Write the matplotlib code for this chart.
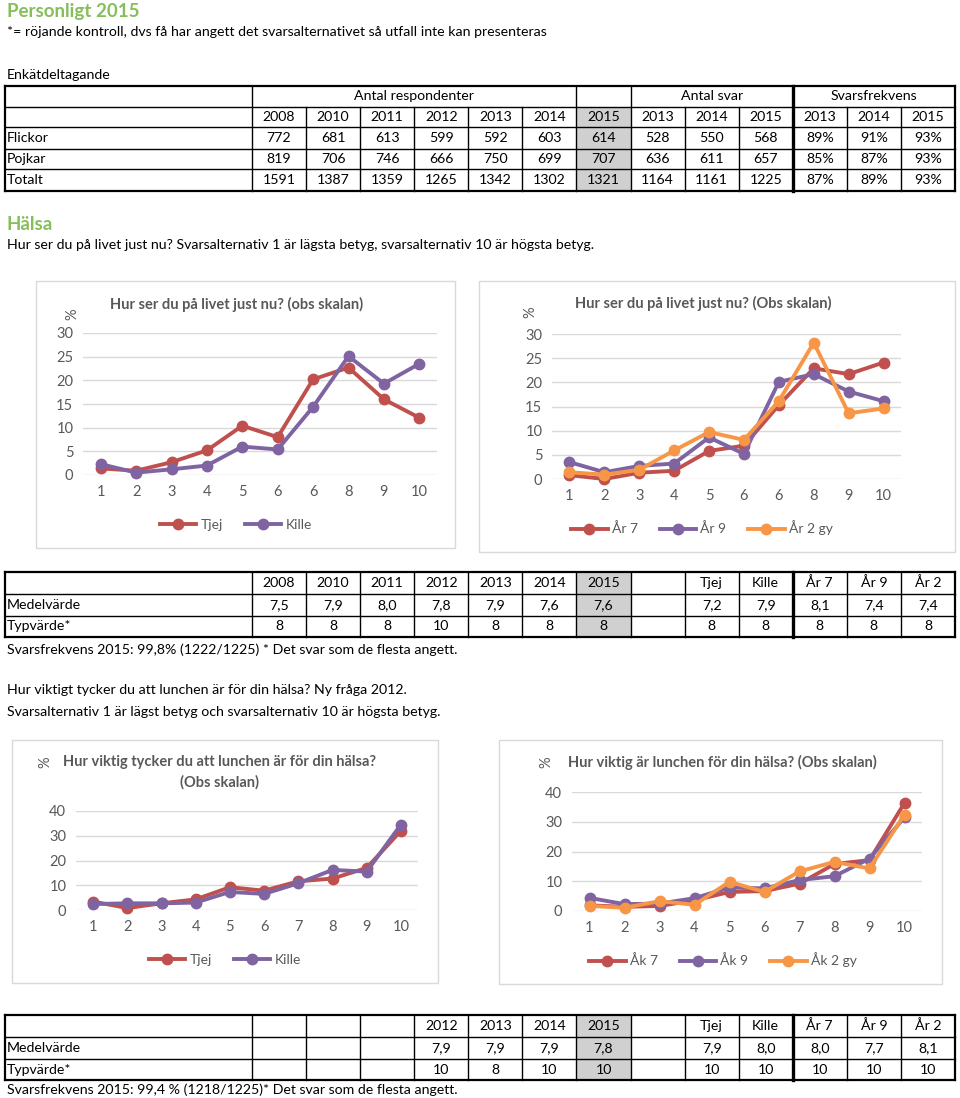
import matplotlib
matplotlib.use('Agg')
import matplotlib.pyplot as plt
import numpy as np
from matplotlib.patches import Rectangle

plt.rcParams['font.family'] = ['Lato', 'DejaVu Sans']

W, H = 960, 1098
GREEN = '#86bf5a'
GRAY = '#595959'
RED = '#c0504d'
PURPLE = '#8064a2'
ORANGE = '#f79646'

# ---------------- data ----------------
years_resp = ['2008', '2010', '2011', '2012', '2013', '2014', '2015']
years_short = ['2013', '2014', '2015']
row_names = ['Flickor', 'Pojkar', 'Totalt']
resp_flickor = ['772', '681', '613', '599', '592', '603', '614']
resp_pojkar = ['819', '706', '746', '666', '750', '699', '707']
resp_totalt = ['1591', '1387', '1359', '1265', '1342', '1302', '1321']
svar_flickor = ['528', '550', '568']
svar_pojkar = ['636', '611', '657']
svar_totalt = ['1164', '1161', '1225']
frek_flickor = ['89%', '91%', '93%']
frek_pojkar = ['85%', '87%', '93%']
frek_totalt = ['87%', '89%', '93%']

life_labels = ['1', '2', '3', '4', '5', '6', '6', '8', '9', '10']
life_tjej = [1.4, 0.9, 2.7, 5.2, 10.4, 8.0, 20.2, 22.7, 16.0, 12.1]
life_kille = [2.3, 0.5, 1.2, 2.0, 6.0, 5.4, 14.4, 25.1, 19.3, 23.5]
life_ar7 = [0.8, 0.0, 1.3, 1.7, 5.8, 6.9, 15.3, 22.9, 21.7, 24.1]
life_ar9 = [3.5, 1.4, 2.7, 3.2, 8.6, 5.2, 20.1, 21.7, 18.1, 16.1]
life_ar2 = [1.4, 0.9, 1.9, 5.9, 9.7, 8.1, 16.1, 28.2, 13.6, 14.6]

group_cols = ['Tjej', 'Kille', 'År 7', 'År 9', 'År 2']
life_medel_years = ['7,5', '7,9', '8,0', '7,8', '7,9', '7,6', '7,6']
life_typ_years = ['8', '8', '8', '10', '8', '8', '8']
life_medel_groups = ['7,2', '7,9', '8,1', '7,4', '7,4']
life_typ_groups = ['8', '8', '8', '8', '8']

lunch_labels = ['1', '2', '3', '4', '5', '6', '7', '8', '9', '10']
lunch_tjej = [3.4, 0.8, 2.7, 4.3, 9.2, 7.8, 11.6, 12.7, 17.0, 32.0]
lunch_kille = [2.4, 2.7, 2.7, 3.0, 7.3, 6.5, 10.8, 16.2, 15.5, 34.5]
lunch_ak7 = [1.9, 1.4, 1.7, 3.6, 6.4, 6.7, 9.2, 15.8, 17.1, 36.3]
lunch_ak9 = [4.4, 2.3, 2.5, 4.3, 7.9, 7.6, 10.4, 11.7, 17.6, 31.5]
lunch_ak2 = [1.7, 1.1, 3.3, 2.1, 9.8, 6.4, 13.3, 16.5, 14.3, 32.4]

lunch_medel_years = ['', '', '', '7,9', '7,9', '7,9', '7,8']
lunch_typ_years = ['', '', '', '10', '8', '10', '10']
lunch_year_hdr = ['', '', '', '2012', '2013', '2014', '2015']
lunch_medel_groups = ['7,9', '8,0', '8,0', '7,7', '8,1']
lunch_typ_groups = ['10', '10', '10', '10', '10']

# ---------------- figure ----------------
fig = plt.figure(figsize=(W / 100, H / 100), dpi=100)
bg = fig.add_axes([0, 0, 1, 1])
bg.set_xlim(0, W)
bg.set_ylim(H, 0)
bg.axis('off')

FS = 10.2


def px(x0, y0, x1, y1):
    return [x0 / W, 1 - y1 / H, (x1 - x0) / W, (y1 - y0) / H]


def txt(x, y, s, ha='left', **kw):
    kw.setdefault('fontsize', FS)
    kw.setdefault('color', 'black')
    bg.text(x, y, s, ha=ha, va='center', **kw)


def hline(x0, x1, y, lw=1.0):
    bg.plot([x0, x1], [y, y], color='black', lw=lw, solid_capstyle='projecting')


def vline(x, y0, y1, lw=1.0):
    bg.plot([x, x], [y0, y1], color='black', lw=lw, solid_capstyle='projecting')


cols = np.linspace(252, 955, 14)
LEFT = 5

# header texts
txt(7, 12, 'Personligt 2015', fontsize=13.5, color=GREEN, fontweight='bold')
txt(7, 32, '*= röjande kontroll, dvs få har angett det svarsalternativet så utfall inte kan presenteras')
txt(7, 75, 'Enkätdeltagande')

# ---------- table 1 ----------
rows1 = [86, 107, 127, 149, 169, 191]
bg.add_patch(Rectangle((cols[6], rows1[1]), cols[7] - cols[6], rows1[-1] - rows1[1],
                       facecolor='#d0d0d0', edgecolor='none'))
for i, y in enumerate(rows1):
    hline(LEFT, cols[-1], y, lw=1.6 if i in (0, len(rows1) - 1) else 1.0)
vline(LEFT, rows1[0], rows1[-1], lw=1.6)
vline(cols[-1], rows1[0], rows1[-1], lw=1.6)
for j in [0, 6, 7]:
    vline(cols[j], rows1[0], rows1[-1])
vline(cols[10], rows1[0], rows1[-1], lw=2.4)
for j in list(range(1, 6)) + [8, 9, 11, 12]:
    vline(cols[j], rows1[1], rows1[-1])
txt((cols[0] + cols[6]) / 2, (rows1[0] + rows1[1]) / 2, 'Antal respondenter', ha='center')
txt((cols[7] + cols[10]) / 2, (rows1[0] + rows1[1]) / 2, 'Antal svar', ha='center')
txt((cols[10] + cols[13]) / 2, (rows1[0] + rows1[1]) / 2, 'Svarsfrekvens', ha='center')
hdr1 = years_resp + years_short + years_short
body1 = [resp_flickor + svar_flickor + frek_flickor,
         resp_pojkar + svar_pojkar + frek_pojkar,
         resp_totalt + svar_totalt + frek_totalt]
for j, s in enumerate(hdr1):
    txt((cols[j] + cols[j + 1]) / 2, (rows1[1] + rows1[2]) / 2, s, ha='center')
for r, (name, vals) in enumerate(zip(row_names, body1)):
    yc = (rows1[r + 2] + rows1[r + 3]) / 2
    txt(7, yc, name)
    for j, s in enumerate(vals):
        txt((cols[j] + cols[j + 1]) / 2, yc, s, ha='center')

txt(7, 225, 'Hälsa', fontsize=13.5, color=GREEN, fontweight='bold')
txt(7, 245, 'Hur ser du på livet just nu? Svarsalternativ 1 är lägsta betyg, svarsalternativ 10 är högsta betyg.')


# ---------- small tables ----------
def small_table(top, header, medel, typ):
    rows = [top, top + 22, top + 44, top + 65]
    bg.add_patch(Rectangle((cols[6], rows[0]), cols[7] - cols[6], rows[-1] - rows[0],
                           facecolor='#d0d0d0', edgecolor='none'))
    for i, y in enumerate(rows):
        hline(LEFT, cols[-1], y, lw=1.6 if i in (0, 3) else 1.0)
    vline(LEFT, rows[0], rows[-1], lw=1.6)
    vline(cols[-1], rows[0], rows[-1], lw=1.6)
    for j in range(13):
        vline(cols[j], rows[0], rows[-1], lw=2.4 if j == 10 else 1.0)
    lines = [('', header + [''] + group_cols),
             ('Medelvärde', medel[0] + [''] + medel[1]),
             ('Typvärde*', typ[0] + [''] + typ[1])]
    for r, (name, vals) in enumerate(lines):
        yc = (rows[r] + rows[r + 1]) / 2
        txt(7, yc, name)
        for j, s in enumerate(vals):
            txt((cols[j] + cols[j + 1]) / 2, yc, s, ha='center')


small_table(572, years_resp, (life_medel_years, life_medel_groups), (life_typ_years, life_typ_groups))
txt(7, 650, 'Svarsfrekvens 2015: 99,8% (1222/1225) * Det svar som de flesta angett.')
txt(7, 690, 'Hur viktigt tycker du att lunchen är för din hälsa? Ny fråga 2012.')
txt(7, 712, 'Svarsalternativ 1 är lägst betyg och svarsalternativ 10 är högsta betyg.')
small_table(1015, lunch_year_hdr, (lunch_medel_years, lunch_medel_groups), (lunch_typ_years, lunch_typ_groups))
txt(7, 1090, 'Svarsfrekvens 2015: 99,4 % (1218/1225)* Det svar som de flesta angett.')


# ---------- charts ----------
def chart(frame, box, ymax, ystep, labels, series, title_lines, pct_xy, legend_xy):
    fx0, fy0, fx1, fy1 = frame
    bg.add_patch(Rectangle((fx0, fy0), fx1 - fx0, fy1 - fy0, facecolor='white',
                           edgecolor='#d9d9d9', lw=1.0))
    ax = fig.add_axes(px(*box))
    ax.patch.set_alpha(0)
    x = np.arange(len(labels))
    for vals, name, color in series:
        ax.plot(x, vals, color=color, lw=2.8, marker='o', ms=7.5, label=name,
                clip_on=False, solid_joinstyle='round')
    ax.set_xlim(-0.5, len(labels) - 0.5)
    ax.set_ylim(0, ymax)
    ax.set_yticks(np.arange(0, ymax + 1, ystep))
    ax.set_xticks(x, labels)
    ax.grid(axis='y', color='#d9d9d9', lw=1)
    ax.set_axisbelow(True)
    for s in ax.spines.values():
        s.set_visible(False)
    ax.tick_params(length=0, colors=GRAY, labelsize=10.5, pad=7)
    for tx, ty, s, ha in title_lines:
        txt(tx, ty, s, ha=ha, fontsize=10.5, color=GRAY, fontweight='bold')
    txt(pct_xy[0], pct_xy[1], '%', ha='center', color=GRAY, rotation=90, fontsize=10.5)
    ax.legend(loc='center', bbox_to_anchor=(legend_xy[0] / W, 1 - legend_xy[1] / H),
              bbox_transform=fig.transFigure, ncol=len(series), frameon=False,
              fontsize=10, handlelength=2.6, columnspacing=1.6, handletextpad=0.3,
              labelcolor=GRAY)
    return ax


chart((36, 281, 455, 548), (83, 333, 437, 475), 30, 5, life_labels,
      [(life_tjej, 'Tjej', RED), (life_kille, 'Kille', PURPLE)],
      [(110, 304, 'Hur ser du på livet just nu? (obs skalan)', 'left')],
      (72, 314), (236, 525))

chart((479, 281, 955, 552), (552, 334, 901, 479), 30, 5, life_labels,
      [(life_ar7, 'År 7', RED), (life_ar9, 'År 9', PURPLE), (life_ar2, 'År 2 gy', ORANGE)],
      [(575, 303, 'Hur ser du på livet just nu? (Obs skalan)', 'left')],
      (530, 312), (702, 528))

chart((12, 740, 438, 983), (76, 811, 418, 910), 40, 10, lunch_labels,
      [(lunch_tjej, 'Tjej', RED), (lunch_kille, 'Kille', PURPLE)],
      [(220, 762, 'Hur viktig tycker du att lunchen är för din hälsa?', 'center'),
       (220, 782, '(Obs skalan)', 'center')],
      (45, 762), (225, 960))

chart((499, 740, 942, 984), (572, 792, 922, 911), 40, 10, lunch_labels,
      [(lunch_ak7, 'Åk 7', RED), (lunch_ak9, 'Åk 9', PURPLE), (lunch_ak2, 'Åk 2 gy', ORANGE)],
      [(568, 762, 'Hur viktig är lunchen för din hälsa? (Obs skalan)', 'left')],
      (546, 762), (723, 960))

fig.savefig('out.png', dpi=100)
